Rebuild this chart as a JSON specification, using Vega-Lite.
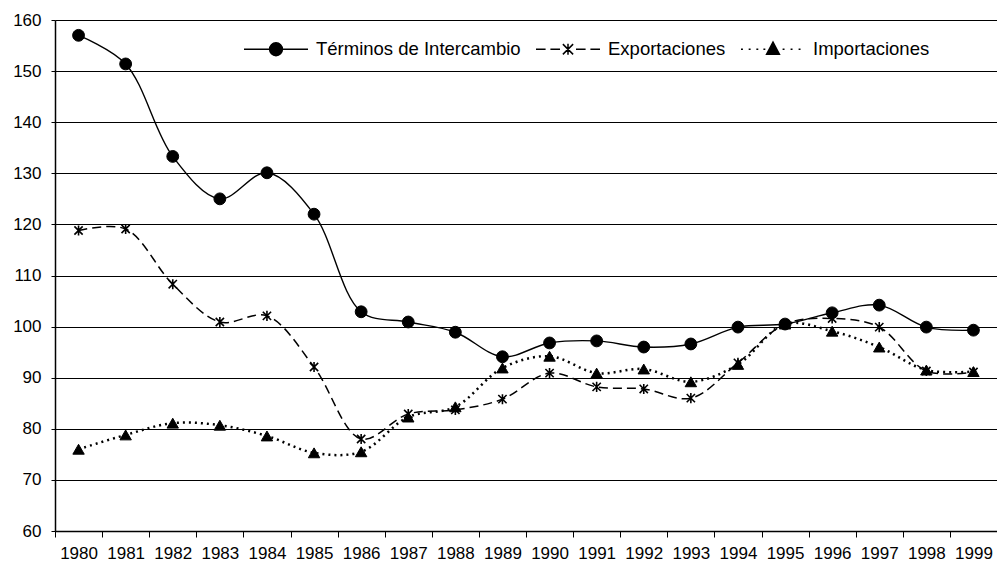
{
  "$schema": "https://vega.github.io/schema/vega-lite/v6.json",
  "autosize": {"type": "none"},
  "padding": {"left": 55, "top": 20, "right": 0, "bottom": 33},
  "width": 942,
  "height": 511,
  "background": "white",
  "config": {
    "font": "Liberation Sans",
    "view": {"stroke": null},
    "axis": {"labelFont": "Liberation Sans", "labelFontSize": 17, "labelColor": "black", "domainColor": "black", "tickColor": "black", "gridColor": "black", "title": null}
  },
  "data": {"values": [
    {"year": "1980", "serie": "Términos de Intercambio", "value": 157},
    {"year": "1981", "serie": "Términos de Intercambio", "value": 151.4},
    {"year": "1982", "serie": "Términos de Intercambio", "value": 133.3},
    {"year": "1983", "serie": "Términos de Intercambio", "value": 125},
    {"year": "1984", "serie": "Términos de Intercambio", "value": 130.1},
    {"year": "1985", "serie": "Términos de Intercambio", "value": 122},
    {"year": "1986", "serie": "Términos de Intercambio", "value": 102.9},
    {"year": "1987", "serie": "Términos de Intercambio", "value": 100.9},
    {"year": "1988", "serie": "Términos de Intercambio", "value": 98.9},
    {"year": "1989", "serie": "Términos de Intercambio", "value": 94.1},
    {"year": "1990", "serie": "Términos de Intercambio", "value": 96.8},
    {"year": "1991", "serie": "Términos de Intercambio", "value": 97.2},
    {"year": "1992", "serie": "Términos de Intercambio", "value": 96},
    {"year": "1993", "serie": "Términos de Intercambio", "value": 96.6},
    {"year": "1994", "serie": "Términos de Intercambio", "value": 99.9},
    {"year": "1995", "serie": "Términos de Intercambio", "value": 100.5},
    {"year": "1996", "serie": "Términos de Intercambio", "value": 102.7},
    {"year": "1997", "serie": "Términos de Intercambio", "value": 104.2},
    {"year": "1998", "serie": "Términos de Intercambio", "value": 99.9},
    {"year": "1999", "serie": "Términos de Intercambio", "value": 99.3},
    {"year": "1980", "serie": "Exportaciones", "value": 118.8},
    {"year": "1981", "serie": "Exportaciones", "value": 119.1},
    {"year": "1982", "serie": "Exportaciones", "value": 108.3},
    {"year": "1983", "serie": "Exportaciones", "value": 100.9},
    {"year": "1984", "serie": "Exportaciones", "value": 102.1},
    {"year": "1985", "serie": "Exportaciones", "value": 92.1},
    {"year": "1986", "serie": "Exportaciones", "value": 78},
    {"year": "1987", "serie": "Exportaciones", "value": 82.9},
    {"year": "1988", "serie": "Exportaciones", "value": 83.7},
    {"year": "1989", "serie": "Exportaciones", "value": 85.8},
    {"year": "1990", "serie": "Exportaciones", "value": 90.9},
    {"year": "1991", "serie": "Exportaciones", "value": 88.2},
    {"year": "1992", "serie": "Exportaciones", "value": 87.8},
    {"year": "1993", "serie": "Exportaciones", "value": 86},
    {"year": "1994", "serie": "Exportaciones", "value": 92.9},
    {"year": "1995", "serie": "Exportaciones", "value": 100.5},
    {"year": "1996", "serie": "Exportaciones", "value": 101.6},
    {"year": "1997", "serie": "Exportaciones", "value": 99.9},
    {"year": "1998", "serie": "Exportaciones", "value": 91.3},
    {"year": "1999", "serie": "Exportaciones", "value": 91.1},
    {"year": "1980", "serie": "Importaciones", "value": 76},
    {"year": "1981", "serie": "Importaciones", "value": 78.8},
    {"year": "1982", "serie": "Importaciones", "value": 81.1},
    {"year": "1983", "serie": "Importaciones", "value": 80.7},
    {"year": "1984", "serie": "Importaciones", "value": 78.6},
    {"year": "1985", "serie": "Importaciones", "value": 75.3},
    {"year": "1986", "serie": "Importaciones", "value": 75.5},
    {"year": "1987", "serie": "Importaciones", "value": 82.3},
    {"year": "1988", "serie": "Importaciones", "value": 84.3},
    {"year": "1989", "serie": "Importaciones", "value": 91.9},
    {"year": "1990", "serie": "Importaciones", "value": 94.2},
    {"year": "1991", "serie": "Importaciones", "value": 90.9},
    {"year": "1992", "serie": "Importaciones", "value": 91.7},
    {"year": "1993", "serie": "Importaciones", "value": 89.2},
    {"year": "1994", "serie": "Importaciones", "value": 92.6},
    {"year": "1995", "serie": "Importaciones", "value": 100.5},
    {"year": "1996", "serie": "Importaciones", "value": 99.1},
    {"year": "1997", "serie": "Importaciones", "value": 96},
    {"year": "1998", "serie": "Importaciones", "value": 91.5},
    {"year": "1999", "serie": "Importaciones", "value": 91.2}
  ]},
  "encoding": {
    "x": {"field": "year", "type": "ordinal", "scale": {"type": "band", "paddingInner": 0, "paddingOuter": 0},
      "axis": {"labelAngle": 0, "tickBand": "extent", "tickSize": 6, "labelPadding": 8, "domainWidth": 1.5, "grid": false}},
    "y": {"field": "value", "type": "quantitative", "scale": {"domain": [60, 160], "nice": false, "zero": false},
      "axis": {"values": [60, 70, 80, 90, 100, 110, 120, 130, 140, 150, 160], "grid": true, "gridWidth": 1.2, "gridOpacity": 1, "tickSize": 4, "labelPadding": 10, "domainWidth": 1.5}}
  },
  "layer": [
    {
      "transform": [{"filter": "datum.serie === 'Términos de Intercambio'"}],
      "mark": {"type": "line", "interpolate": "catmull-rom", "color": "black", "strokeWidth": 1.4},
      "encoding": {}
    },
    {
      "transform": [{"filter": "datum.serie === 'Exportaciones'"}],
      "mark": {"type": "line", "interpolate": "catmull-rom", "color": "black", "strokeWidth": 1.5, "strokeDash": [9, 5]},
      "encoding": {}
    },
    {
      "transform": [{"filter": "datum.serie === 'Importaciones'"}],
      "mark": {"type": "line", "interpolate": "catmull-rom", "color": "black", "strokeWidth": 2.5, "strokeDash": [2, 4]},
      "encoding": {}
    },
    {
      "transform": [{"filter": "datum.serie === 'Términos de Intercambio'"}],
      "mark": {"type": "point", "shape": "circle", "filled": true, "color": "black", "stroke": "black", "strokeWidth": 1, "opacity": 1, "size": 140}
    },
    {
      "transform": [{"filter": "datum.serie === 'Exportaciones'"}],
      "mark": {"type": "point", "shape": "M0,-0.85L0,0.85M-0.7,-0.7L0.7,0.7M-0.7,0.7L0.7,-0.7", "filled": true, "color": "black", "stroke": "black", "strokeWidth": 1.6, "opacity": 1, "size": 140}
    },
    {
      "transform": [{"filter": "datum.serie === 'Importaciones'"}],
      "mark": {"type": "point", "shape": "triangle-up", "filled": true, "color": "black", "stroke": "black", "strokeWidth": 1, "opacity": 1, "size": 130}
    },
    {
      "mark": {"type": "point", "filled": true, "color": "black", "stroke": "black", "strokeWidth": 1.5, "opacity": 1, "size": 0},
      "encoding": {
        "shape": {"field": "serie", "type": "nominal",
          "scale": {"domain": ["Términos de Intercambio", "Exportaciones", "Importaciones"],
            "range": [
              "M-1,0L1,0M-0.2,0A0.2,0.2 0 1,0 0.2,0A0.2,0.2 0 1,0 -0.2,0Z",
              "M-1,0L-0.7,0M-0.55,0L-0.25,0M0,-0.17L0,0.17M-0.16,-0.16L0.16,0.16M-0.16,0.16L0.16,-0.16M0.25,0L0.55,0M0.7,0L1,0",
              "M-1,0L-0.94,0M-0.76,0L-0.7,0M-0.52,0L-0.46,0M-0.3,0L-0.24,0M0,-0.22L0.2,0.16L-0.2,0.16ZM0.3,0L0.36,0M0.55,0L0.61,0M0.8,0L0.86,0"
            ]},
          "legend": {
            "title": null, "orient": "none", "legendX": 188, "legendY": -4, "direction": "horizontal", "columns": 3,
            "symbolSize": 4096, "symbolStrokeWidth": 1.5,
            "labelFontSize": 18.5, "labelFont": "Liberation Sans", "labelColor": "black", "labelLimit": 400,
            "labelOffset": 7, "columnPadding": 12
          }
        }
      }
    }
  ]
}
